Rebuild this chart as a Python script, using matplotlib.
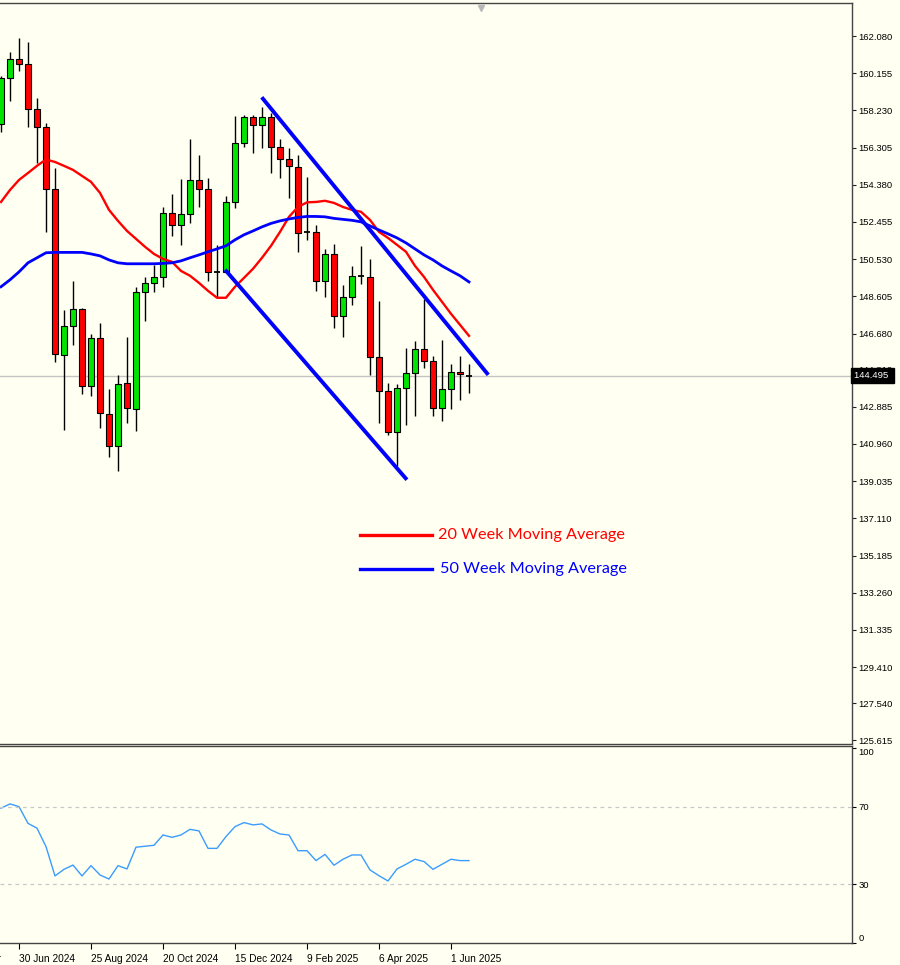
import matplotlib
matplotlib.use('Agg')
import matplotlib.pyplot as plt
import matplotlib.transforms as mtransforms
from matplotlib.lines import Line2D
import numpy as np

# weekly candles, 16 Jun 2024 .. 15 Jun 2025 (index 0..52)
opens = [157.53, 159.89, 160.89, 160.62, 158.29, 157.39, 154.15, 145.58, 147.08, 147.96,
         143.94, 146.44, 142.50, 140.87, 144.11, 142.77, 148.82, 149.29, 149.63, 152.94,
         152.30, 152.87, 154.63, 154.16, 149.89, 149.89, 153.48, 156.56, 157.87, 157.48,
         157.87, 156.32, 155.72, 155.32, 151.92, 151.96, 149.41, 150.80, 147.60, 148.56,
         149.66, 149.63, 145.46, 143.68, 141.58, 143.86, 144.63, 145.87, 145.27, 142.82,
         143.80, 144.68, 144.52]
highs = [160.01, 161.27, 161.96, 161.79, 158.86, 157.60, 155.24, 147.91, 149.42, 148.00,
         146.65, 147.22, 143.82, 144.51, 146.49, 149.11, 149.58, 150.23, 153.25, 153.89,
         154.68, 156.74, 155.92, 154.72, 151.27, 153.80, 157.96, 157.97, 157.97, 158.42,
         158.08, 156.74, 156.27, 155.92, 154.80, 152.30, 151.05, 151.32, 149.20, 150.15,
         151.22, 150.53, 148.34, 144.11, 144.06, 145.93, 146.27, 148.46, 145.53, 146.32,
         145.11, 145.49, 145.11]
lows = [157.11, 158.73, 160.28, 157.36, 155.49, 151.93, 145.23, 141.70, 146.10, 143.56,
        143.42, 141.79, 140.27, 139.54, 142.04, 141.65, 147.35, 148.85, 149.11, 151.75,
        151.27, 152.39, 153.25, 149.42, 148.59, 149.84, 153.17, 156.32, 156.01, 156.27,
        154.98, 154.72, 153.68, 150.89, 151.53, 148.90, 148.56, 146.96, 146.52, 148.16,
        149.25, 144.54, 142.04, 141.44, 139.80, 141.96, 142.39, 144.89, 142.39, 142.13,
        142.77, 143.25, 143.60]
closes = [159.92, 160.89, 160.62, 158.29, 157.39, 154.15, 145.63, 147.08, 147.96, 143.94,
          146.44, 142.56, 140.87, 144.06, 142.82, 148.82, 149.29, 149.63, 152.94, 152.30,
          152.87, 154.63, 154.15, 149.86, 149.89, 153.48, 156.56, 157.87, 157.48, 157.87,
          156.32, 155.72, 155.37, 151.87, 151.92, 149.41, 150.80, 147.60, 148.56, 149.68,
          149.66, 145.46, 143.68, 141.58, 143.86, 144.63, 145.87, 145.28, 142.82, 143.80,
          144.68, 144.58, 144.495]

ma20 = [153.49, 154.11, 154.63, 154.99, 155.36, 155.69, 155.56, 155.36, 155.15, 154.84,
        154.53, 153.96, 153.08, 152.51, 151.99, 151.58, 151.17, 150.80, 150.54, 150.39,
        149.92, 149.67, 149.30, 148.89, 148.53, 148.53, 149.10, 149.56, 150.03, 150.60,
        151.22, 151.94, 152.72, 153.23, 153.47, 153.49, 153.55, 153.44, 153.23, 153.08,
        152.98, 152.56, 151.94, 151.63, 151.27, 150.91, 150.18, 149.61, 148.94, 148.32,
        147.70, 147.13, 146.56]
ma50 = [149.10, 149.46, 149.87, 150.34, 150.60, 150.86, 150.88, 150.88, 150.88, 150.88,
        150.80, 150.70, 150.49, 150.34, 150.29, 150.29, 150.29, 150.29, 150.31, 150.34,
        150.44, 150.60, 150.75, 150.91, 151.06, 151.22, 151.53, 151.79, 151.99, 152.20,
        152.38, 152.51, 152.61, 152.69, 152.74, 152.74, 152.72, 152.64, 152.59, 152.54,
        152.46, 152.25, 152.04, 151.84, 151.63, 151.37, 151.06, 150.75, 150.49, 150.18,
        149.92, 149.67, 149.35]
rsi = [69.2, 71.4, 70.0, 61.4, 58.9, 49.4, 34.3, 37.7, 39.9, 34.3,
       39.6, 34.8, 32.7, 39.6, 37.9, 49.1, 49.6, 50.1, 55.4, 54.2,
       55.4, 58.3, 57.5, 48.5, 48.5, 54.6, 59.7, 61.8, 60.6, 61.1,
       58.0, 55.9, 55.4, 47.3, 47.3, 42.2, 45.4, 39.8, 42.9, 45.1,
       45.1, 37.4, 34.4, 31.7, 37.9, 40.3, 42.9, 41.7, 37.7, 40.3,
       42.9, 42.2, 42.2]

# channel lines (week index, price)
upper_line_x = [28.97, 54.14]
upper_line_y = [158.91, 144.54]
lower_line_x = [24.9, 45.1]
lower_line_y = [149.98, 139.11]

price_ticks = [162.080, 160.155, 158.230, 156.305, 154.380, 152.455, 150.530, 148.605,
               146.680, 144.810, 142.885, 140.960, 139.035, 137.110, 135.185, 133.260,
               131.335, 129.410, 127.540, 125.615]
last_price = 144.495
date_ticks = [-6, 2, 10, 18, 26, 34, 42, 50]
date_labels = ['5 May 2024', '30 Jun 2024', '25 Aug 2024', '20 Oct 2024', '15 Dec 2024',
               '9 Feb 2025', '6 Apr 2025', '1 Jun 2025']

BG = '#fffff2'
GREEN = '#00e400'
RED = '#ff0000'
W, H = 900, 965
LAB_FS = 6.8

x = np.arange(len(opens))
o = np.array(opens)
c = np.array(closes)

fig = plt.figure(figsize=(W / 100, H / 100), dpi=100, facecolor=BG)
ax = fig.add_axes([0, 1 - 743.5 / H, 851.7 / W, (743.5 - 3) / H], facecolor=BG)
ax2 = fig.add_axes([0, 1 - 942.7 / H, 851.7 / W, (942.7 - 745.5) / H], facecolor=BG)

# candles
ax.vlines(x, lows, highs, color='black', lw=1, zorder=2)
is_doji = np.abs(c - o) < 0.05
body_col = [GREEN if cc > oo else RED for oo, cc in zip(o, c)]
for i in range(len(x)):
    if is_doji[i]:
        ax.hlines(c[i], x[i] - 0.32, x[i] + 0.32, color='black', lw=1.3, zorder=3)
    else:
        ax.bar(x[i], abs(c[i] - o[i]), bottom=min(o[i], c[i]), width=0.62,
               color=body_col[i], edgecolor='black', linewidth=0.8, zorder=3)

ax.axhline(last_price, color='#c4c4c4', lw=1, zorder=1)
ax.plot(x, ma20, color=RED, lw=1.7, zorder=4)
ax.plot(x, ma50, color='#0000ff', lw=2.0, zorder=4)
ax.plot(upper_line_x, upper_line_y, color='#0000ff', lw=2.8, zorder=5, solid_capstyle='butt')
ax.plot(lower_line_x, lower_line_y, color='#0000ff', lw=2.8, zorder=5, solid_capstyle='butt')

ax.set_xlim(-0.11, 94.52)
ax.set_ylim(125.455, 163.79)
ax.yaxis.tick_right()
ax.set_yticks(price_ticks)
ax.set_yticklabels(['%.3f' % v for v in price_ticks])
ax.set_xticks([])
ax.tick_params(axis='y', direction='out', length=3, width=0.8, pad=2,
               labelsize=LAB_FS, colors='#222222')
for lab in ax.get_yticklabels():
    lab.set_fontfamily('Liberation Sans')
    lab.set_color('black')
for side in ['top', 'right', 'bottom']:
    ax.spines[side].set_color('#444444')
    ax.spines[side].set_linewidth(1)
ax.spines['left'].set_visible(False)

# last price box (covers the 144.810 label, as in the terminal)
trans = mtransforms.blended_transform_factory(ax.transAxes, ax.transData)
ax.text(1.003, last_price, '144.495 ', transform=trans, ha='left', va='center',
        fontsize=LAB_FS, family='Liberation Sans', color='white', zorder=10, clip_on=False,
        bbox=dict(boxstyle='square,pad=0.3', fc='black', ec='black'))

# shift marker
ax.plot([0.5648], [0.993], marker='v', color='#b8b8b8', ms=5, transform=ax.transAxes,
        clip_on=False)

# legend text
fig.add_artist(Line2D([360 / W, 432 / W], [1 - 535 / H] * 2, color=RED, lw=2.4))
fig.add_artist(Line2D([360 / W, 432 / W], [1 - 569 / H] * 2, color='#0000ff', lw=2.4))
fig.text(438 / W, 1 - 535 / H, '20 Week Moving Average', color=RED, va='center',
         ha='left', family='Lato', fontsize=11.7)
fig.text(440 / W, 1 - 569 / H, '50 Week Moving Average', color='#0000ff', va='center',
         ha='left', family='Lato', fontsize=11.7)

# RSI panel
ax2.plot(x, rsi, color='#3a9cff', lw=1.0)
ax2.axhline(70, color='#c8c8c8', lw=0.9, ls=(0, (3, 3)))
ax2.axhline(30, color='#c8c8c8', lw=0.9, ls=(0, (3, 3)))
ax2.set_xlim(-0.11, 94.52)
ax2.set_ylim(-0.1, 101.5)
ax2.yaxis.tick_right()
ax2.set_yticks([0, 30, 70, 100])
ax2.set_yticklabels(['0', '30', '70', '100'])
ax2.tick_params(axis='y', direction='out', length=3, width=0.8, pad=2, labelsize=LAB_FS)
ylabs = ax2.get_yticklabels()
for lab in ylabs:
    lab.set_fontfamily('Liberation Sans')
ylabs[0].set_va('bottom')
ylabs[-1].set_va('top')

ax2.set_xticks(date_ticks[1:])
ax2.set_xticklabels(date_labels[1:])
ax2.tick_params(axis='x', direction='out', length=4, width=0.8, pad=4, labelsize=7.3)
for lab in ax2.get_xticklabels():
    lab.set_ha('left')
    lab.set_fontfamily('Liberation Sans')
# first date label, mostly off the left edge
trans2 = mtransforms.blended_transform_factory(ax2.transData, ax2.transAxes)
ax2.text(date_ticks[0] + 0.1, -0.04, date_labels[0], transform=trans2, ha='left', va='top',
         fontsize=7.3, family='Liberation Sans', clip_on=False)
for side in ['top', 'right', 'bottom']:
    ax2.spines[side].set_color('#444444')
    ax2.spines[side].set_linewidth(1)
ax2.spines['left'].set_visible(False)

fig.savefig('out.png', dpi=100, facecolor=BG)
